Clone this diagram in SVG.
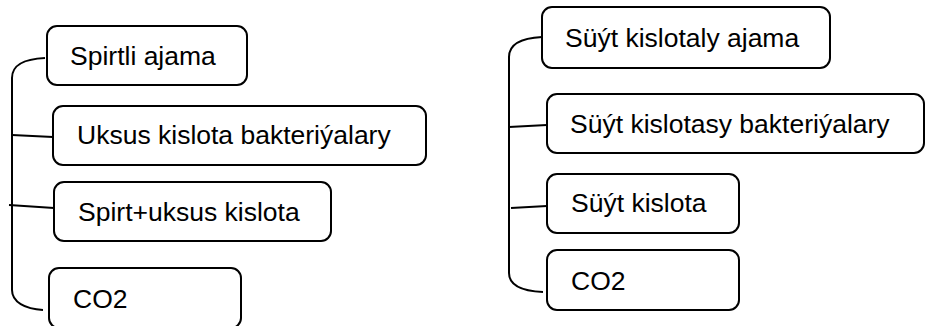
<svg xmlns="http://www.w3.org/2000/svg" width="926" height="326" viewBox="0 0 926 326">
<style>
.box{fill:#fff;stroke:#000;stroke-width:2}
.lbl{font-family:"Liberation Sans",Arial,sans-serif;font-size:26.5px;fill:#000}
.con{fill:none;stroke:#000;stroke-width:2}
</style>
<rect width="926" height="326" fill="#fff"/>
<g id="connectors">
<path class="con" d="M45,58 C25,59 12,64 12,78 L12,290 C12,302 25,309 43,310"/>
<path class="con" d="M12,135 L53,137"/>
<path class="con" d="M9,205 L54,208"/>
<path class="con" d="M542,37 C522,38 509,44 509,57 L509,273 C509,284 520,291 543,292"/>
<path class="con" d="M509,127 L547,125"/>
<path class="con" d="M511,208 L547,206"/>
</g>
<g id="n1"><rect class="box" x="47" y="26" width="200" height="59" rx="10"/><text class="lbl" x="70" y="65">Spirtli ajama</text></g>
<g id="n2"><rect class="box" x="53" y="106" width="373" height="59" rx="10"/><text class="lbl" x="77" y="144">Uksus kislota bakteriýalary</text></g>
<g id="n3"><rect class="box" x="54" y="182" width="277" height="59" rx="10"/><text class="lbl" x="78" y="221">Spirt+uksus kislota</text></g>
<g id="n4"><rect class="box" x="49" y="268" width="192" height="60" rx="10"/><text class="lbl" x="73" y="308">CO2</text></g>
<g id="n5"><rect class="box" x="542" y="7" width="288" height="61" rx="10"/><text class="lbl" x="565" y="47">Süýt kislotaly ajama</text></g>
<g id="n6"><rect class="box" x="547" y="94" width="377" height="59" rx="10"/><text class="lbl" x="570" y="133">Süýt kislotasy bakteriýalary</text></g>
<g id="n7"><rect class="box" x="547" y="174" width="192" height="59" rx="10"/><text class="lbl" x="571" y="212">Süýt kislota</text></g>
<g id="n8"><rect class="box" x="547" y="250" width="192" height="60" rx="10"/><text class="lbl" x="571" y="290">CO2</text></g>
</svg>
